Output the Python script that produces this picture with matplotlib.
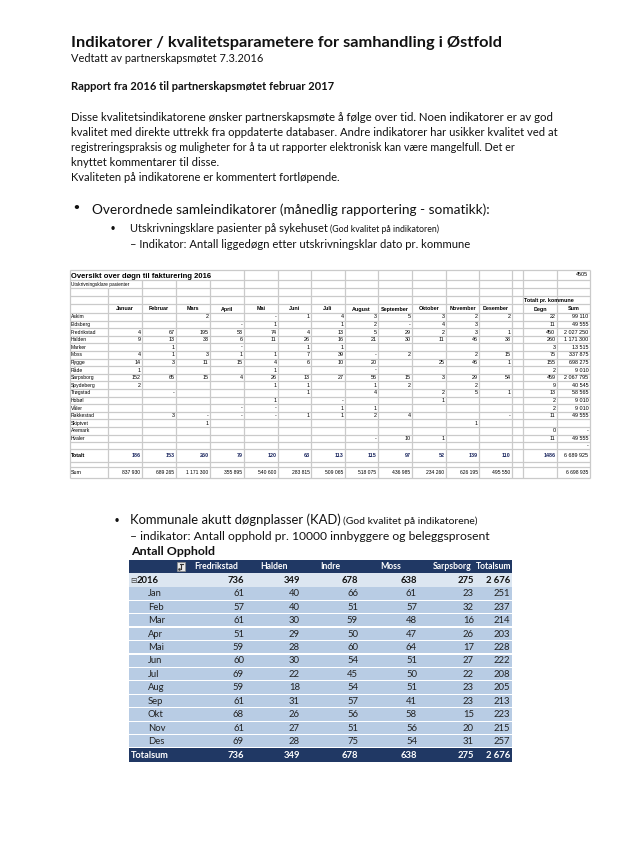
import matplotlib
matplotlib.use('Agg')
import matplotlib.pyplot as plt
from matplotlib.patches import Rectangle

# ---------------- data: table 1 (Oversikt over døgn til fakturering 2016) ----------------
kommuner = ['Askim', 'Eidsberg', 'Fredrikstad', 'Halden', 'Marker', 'Moss', 'Rygge', 'Råde',
            'Sarpsborg', 'Spydeberg', 'Trøgstad', 'Hobøl', 'Våler', 'Rakkestad', 'Skiptvet',
            'Aremark', 'Hvaler']
maaneder = ['Januar', 'Februar', 'Mars', 'April', 'Mai', 'Juni', 'Juli', 'August',
            'September', 'Oktober', 'November', 'Desember']
januar = ['', '', '4', '9', '', '4', '14', '1', '152', '2', '', '', '', '', '', '', '']
februar = ['', '', '67', '13', '1', '1', '3', '', '65', '', '-', '', '', '3', '', '', '']
mars = ['2', '', '195', '33', '', '3', '11', '', '15', '', '', '', '', '-', '1', '', '']
april = ['', '-', '53', '6', '-', '1', '15', '', '4', '', '', '', '-', '-', '', '', '']
mai = ['-', '1', '74', '11', '', '1', '4', '1', '26', '1', '', '1', '-', '-', '', '', '']
juni = ['1', '', '4', '26', '1', '7', '6', '', '13', '1', '1', '', '', '1', '', '', '']
juli = ['4', '1', '13', '16', '1', '39', '10', '', '27', '', '', '-', '1', '1', '', '', '']
august = ['3', '2', '5', '21', '', '-', '20', '-', '56', '1', '4', '', '1', '2', '', '', '-']
september = ['5', '-', '29', '30', '', '2', '', '', '15', '2', '', '', '', '4', '', '', '10']
oktober = ['3', '4', '2', '11', '', '', '25', '', '3', '', '2', '1', '', '', '', '', '1']
november = ['2', '3', '3', '46', '', '2', '46', '', '29', '2', '5', '', '', '', '1', '', '']
desember = ['2', '', '1', '38', '', '15', '1', '', '54', '', '1', '', '', '-', '', '', '']
degn = ['22', '11', '450', '260', '3', '75', '155', '2', '459', '9', '13', '2', '2', '11', '', '0', '11']
sum_kr = ['99 110', '49 555', '2 027 250', '1 171 300', '13 515', '337 875', '698 275', '9 010',
          '2 067 795', '40 545', '58 565', '9 010', '9 010', '49 555', '', '-', '49 555']
totalt_rad = ['186', '153', '260', '79', '120', '63', '113', '115', '97', '52', '139', '110']
totalt_degn = '1486'
totalt_sum = '6 689 925'
sum_rad = ['837 930', '689 265', '1 171 300', '355 895', '540 600', '283 815', '509 065',
           '518 075', '436 985', '234 260', '626 195', '495 550']
sum_total = '6 698 935'
dognpris = '4505'

# ---------------- data: table 2 (Antall Opphold, KAD) ----------------
kad_kolonner = ['Fredrikstad', 'Halden', 'Indre', 'Moss', 'Sarpsborg', 'Totalsum']
kad_mnd = ['Jan', 'Feb', 'Mar', 'Apr', 'Mai', 'Jun', 'Jul', 'Aug', 'Sep', 'Okt', 'Nov', 'Des']
fredrikstad = [61, 57, 61, 51, 59, 60, 69, 59, 61, 68, 61, 69]
halden = [40, 40, 30, 29, 28, 30, 22, 18, 31, 26, 27, 28]
indre = [66, 51, 59, 50, 60, 54, 45, 54, 57, 56, 51, 75]
moss = [61, 57, 48, 47, 64, 51, 50, 51, 41, 58, 56, 54]
sarpsborg = [23, 32, 16, 26, 17, 27, 22, 23, 23, 15, 20, 31]
totalsum = [251, 237, 214, 203, 228, 222, 208, 205, 213, 223, 215, 257]
aarstotal = ['736', '349', '678', '638', '275', '2 676']

# ---------------- figure ----------------
W, H = 636, 850
fig = plt.figure(figsize=(W / 100, H / 100), dpi=100)
fig.patch.set_facecolor('white')
ax = fig.add_axes([0, 0, 1, 1])
ax.set_xlim(0, W)
ax.set_ylim(H, 0)
ax.axis('off')
renderer = fig.canvas.get_renderer()


def fit_text(x, y, s, x_right, family='Lato', weight='normal', color='black', base=10.0, va='baseline'):
    t = ax.text(x, y, s, fontsize=base, family=family, weight=weight, color=color,
                ha='left', va=va)
    w = t.get_window_extent(renderer=renderer).width
    t.set_fontsize(base * (x_right - x) / w)
    return t


# ---------------- header text block ----------------
TXT = '#111111'
fit_text(71, 47, 'Indikatorer / kvalitetsparametere for samhandling i Østfold', 505, weight='bold', color=TXT)
fit_text(71, 61.5, 'Vedtatt av partnerskapsmøtet 7.3.2016', 262, color=TXT)
fit_text(71, 89.5, 'Rapport fra 2016 til partnerskapsmøtet februar 2017', 335, weight='bold', color=TXT)
para = [
    ('Disse kvalitetsindikatorene ønsker partnerskapsmøte å følge over tid. Noen indikatorer er av god', 554),
    ('kvalitet med direkte uttrekk fra oppdaterte databaser. Andre indikatorer har usikker kvalitet ved at', 557),
    ('registreringspraksis og muligheter for å ta ut rapporter elektronisk kan være mangelfull. Det er', 513),
    ('knyttet kommentarer til disse.', 219),
    ('Kvaliteten på indikatorene er kommentert fortløpende.', 339),
]
for i, (s, xr) in enumerate(para):
    fit_text(71, 121 + 15.1 * i, s, xr, color=TXT)

# bullets section 1
ax.text(76, 212, '•', fontsize=9, family='DejaVu Sans', weight='bold', ha='center', va='baseline', color=TXT)
fit_text(92, 213.5, 'Overordnede samleindikatorer (månedlig rapportering - somatikk):', 488, color=TXT)
ax.text(113, 231.5, '•', fontsize=7, family='DejaVu Sans', weight='bold', ha='center', va='baseline', color=TXT)
t_main = fit_text(130, 232, 'Utskrivningsklare pasienter på sykehuset', 327, color=TXT)
small = t_main.get_fontsize() * 0.8
ax.text(330.5, 232, '(God kvalitet på indikatoren)', fontsize=small, family='Lato', color=TXT, va='baseline')
fit_text(130, 248, '– Indikator: Antall liggedøgn etter utskrivningsklar dato pr. kommune', 469, color=TXT)

# ---------------- table 1 ----------------
GRID = '#cacaca'
t1x = [70, 108, 142, 176, 210, 244, 278, 311, 345, 378, 412, 446, 479, 512, 523, 557, 590]
rh = 7.6
data_top = 313.0
row_edges = [270, 280, 288, 296, 304, 313] + [data_top + rh * (i + 1) for i in range(len(kommuner))]
blank_end = row_edges[-1] + 7
row_edges += [blank_end, blank_end + 13, blank_end + 18, blank_end + 29]
t1_bottom = row_edges[-1]
for y in row_edges:
    ax.plot([70, 590], [y, y], color=GRID, lw=0.9, solid_capstyle='butt')
for x in t1x:
    y0 = 270
    if 70 < x < 244:
        y0 = 280
    if 70 < x < 142:
        y0 = 288
    ax.plot([x, x], [y0, t1_bottom], color=GRID, lw=0.9, solid_capstyle='butt')

fit_text(71, 278.5, 'Oversikt over døgn til fakturering 2016', 210, family='Liberation Sans', weight='bold')
FS1 = 3.9
ax.text(71, 284.5, 'Utskrivningsklare pasienter', fontsize=3.4, family='Liberation Sans', va='center')
ax.text(588, 275, dognpris, fontsize=FS1, family='Liberation Sans', ha='right', va='center')
ax.text(524.5, 300.5, 'Totalt pr. kommune', fontsize=FS1, family='Liberation Sans', weight='bold', va='center')
hdr_c = 309
for j, m in enumerate(maaneder):
    ax.text((t1x[j + 1] + t1x[j + 2]) / 2, hdr_c, m, fontsize=FS1, family='Liberation Sans',
            weight='bold', ha='center', va='center')
ax.text((t1x[14] + t1x[15]) / 2, hdr_c, 'Degn', fontsize=FS1, family='Liberation Sans', weight='bold', ha='center', va='center')
ax.text((t1x[15] + t1x[16]) / 2, hdr_c, 'Sum', fontsize=FS1, family='Liberation Sans', weight='bold', ha='center', va='center')

month_cols = [januar, februar, mars, april, mai, juni, juli, august, september, oktober, november, desember]
for i, k in enumerate(kommuner):
    yc = data_top + rh * i + rh / 2
    ax.text(71, yc, k, fontsize=3.6, family='Liberation Sans', va='center')
    for j, col in enumerate(month_cols):
        v = col[i]
        if v:
            ax.text(t1x[j + 2] - 1.5, yc, v, fontsize=FS1, family='Liberation Sans', ha='right', va='center')
    if degn[i]:
        ax.text(t1x[15] - 1.5, yc, degn[i], fontsize=FS1, family='Liberation Sans', ha='right', va='center')
    if sum_kr[i]:
        ax.text(t1x[16] - 1.5, yc, sum_kr[i], fontsize=FS1, family='Liberation Sans', ha='right', va='center')
# blank row "-" in Sum column
ax.text(t1x[16] - 1.5, (row_edges[-5] + row_edges[-4]) / 2, '-', fontsize=FS1, family='Liberation Sans', ha='right', va='center')
tot_c = (row_edges[-4] + row_edges[-3]) / 2
NAVY1 = '#1c2860'
ax.text(71, tot_c, 'Totalt', fontsize=FS1, family='Liberation Sans', weight='bold', va='center')
for j, v in enumerate(totalt_rad):
    ax.text(t1x[j + 2] - 1.5, tot_c, v, fontsize=FS1, family='Liberation Sans', weight='bold',
            color=NAVY1, ha='right', va='center')
ax.text(t1x[15] - 1.5, tot_c, totalt_degn, fontsize=FS1, family='Liberation Sans', weight='bold', color=NAVY1, ha='right', va='center')
ax.text(t1x[16] - 1.5, tot_c, totalt_sum, fontsize=FS1, family='Liberation Sans', ha='right', va='center')
sum_c = (row_edges[-2] + row_edges[-1]) / 2
ax.text(71, sum_c, 'Sum', fontsize=FS1, family='Liberation Sans', va='center')
for j, v in enumerate(sum_rad):
    ax.text(t1x[j + 2] - 1.5, sum_c, v, fontsize=3.6, family='Liberation Sans', ha='right', va='center')
ax.text(t1x[16] - 1.5, sum_c, sum_total, fontsize=3.6, family='Liberation Sans', ha='right', va='center')

# ---------------- section 2 text ----------------
ax.text(117, 524, '•', fontsize=7, family='DejaVu Sans', weight='bold', ha='center', va='baseline', color=TXT)
t_main2 = fit_text(130, 524.5, 'Kommunale akutt døgnplasser (KAD)', 340, color=TXT)
ax.text(343, 524.5, '(God kvalitet på indikatorene)', fontsize=t_main2.get_fontsize() * 0.8,
        family='Lato', color=TXT, va='baseline')
fit_text(130, 540.5, '– indikator: Antall opphold pr. 10000 innbyggere og beleggsprosent', 490, color=TXT)
fit_text(131, 555, 'Antall Opphold', 215, weight='bold', color=TXT)

# ---------------- table 2 ----------------
NAVY = '#203864'
LIGHT = '#dce6f1'
MID = '#b8cce4'
L, R = 129, 512
step = 13.45
c0 = 566.5
hdr_txt_x = [194, 260, 320, 380, 433]
val_r = [244, 300, 358, 417, 474, 510]

# header band
ax.add_patch(Rectangle((L, c0 - step / 2), R - L, step, facecolor=NAVY, edgecolor='none'))
FSH = 6.2
for x, s in zip(hdr_txt_x, kad_kolonner[:5]):
    ax.text(x, c0 + 0.3, s, fontsize=FSH, family='Lato', weight='bold', color='white', va='center')
ax.text(511.5, c0 + 0.3, kad_kolonner[5], fontsize=FSH, family='Lato', weight='bold', color='white',
        ha='right', va='center')
FS2 = 6.8
# filter icon
ax.add_patch(Rectangle((177, c0 - 4.5), 8, 9, facecolor='#e9e9e9', edgecolor='#8c8c8c', lw=0.5))
ax.plot([179.5, 182.5], [c0 - 2.5, c0 - 2.5], color='#333333', lw=0.8)
ax.plot([181, 181], [c0 - 2.5, c0 + 2.5], color='#333333', lw=0.8)
ax.plot([178.5], [c0 + 2.2], marker='s', ms=0.8, color='#333333')

# 2016 row
c = c0 + step
ax.add_patch(Rectangle((L, c - step / 2), R - L, step, facecolor=LIGHT, edgecolor='none'))
ax.text(130, c + 0.3, '⊟', fontsize=5.5, family='DejaVu Sans', color='#404040', va='center')
ax.text(136.5, c + 0.3, '2016', fontsize=FS2, family='Lato', weight='bold', color='#111111', va='center')
for xr, v in zip(val_r, aarstotal):
    ax.text(xr, c + 0.3, v, fontsize=FS2, family='Lato', weight='bold', color='#111111', ha='right', va='center')

series = [fredrikstad, halden, indre, moss, sarpsborg, totalsum]
for i, m in enumerate(kad_mnd):
    c = c0 + step * (i + 2)
    ax.add_patch(Rectangle((L, c - step / 2 + 0.6), R - L, step - 1.2, facecolor=MID, edgecolor='none'))
    ax.text(148, c + 0.3, m, fontsize=FS2, family='Lato', color='#222222', va='center')
    for xr, ser in zip(val_r, series):
        ax.text(xr, c + 0.3, str(ser[i]), fontsize=FS2, family='Lato', color='#222222', ha='right', va='center')

c = c0 + step * 14
ax.add_patch(Rectangle((L, c - step / 2), R - L, step, facecolor=NAVY, edgecolor='none'))
ax.text(131, c + 0.3, 'Totalsum', fontsize=6.6, family='Lato', weight='bold', color='white', va='center')
for xr, v in zip(val_r, aarstotal):
    ax.text(xr, c + 0.3, v, fontsize=FS2, family='Lato', weight='bold', color='white', ha='right', va='center')

fig.savefig('out.png', dpi=100, facecolor='white')
